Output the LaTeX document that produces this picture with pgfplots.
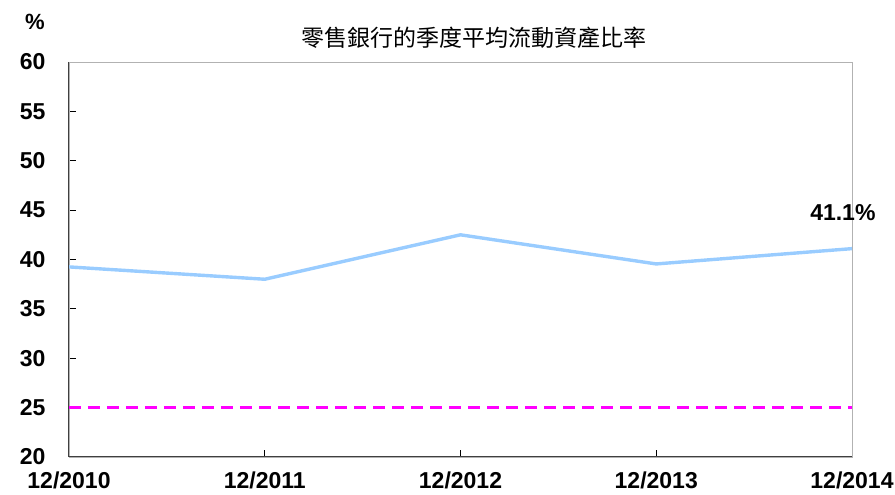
\documentclass[border=0pt]{standalone}
\usepackage{pgfplots}
\pgfplotsset{compat=1.18}
\usepackage{fontspec}
\setmainfont{Liberation Sans}
\newfontfamily\cjk{Noto Sans CJK TC}
\definecolor{lineblue}{RGB}{153,204,255}
\definecolor{mag}{RGB}{255,0,255}
\begin{document}
\begin{tikzpicture}[x=1pt,y=1pt]
\useasboundingbox (-69,-38) rectangle (826,457);
\begin{axis}[
  at={(0,0)}, anchor=south west,
  scale only axis, width=783pt, height=395pt,
  xmin=0, xmax=4, ymin=20, ymax=60,
  xtick={0,1,2,3,4},
  xticklabels={12/2010,12/2011,12/2012,12/2013,12/2014},
  ytick={20,25,...,60},
  tick pos=left,
  tick align=inside,
  major tick length=7pt,
  tick style={black, line width=0.8pt},
  axis line style={draw=black!30, line width=0.8pt},
  /pgf/number format/assume math mode=true,
  ticklabel style={font=\fontsize{23}{23}\selectfont\bfseries},
  xticklabel style={yshift=-11pt},
  yticklabel style={xshift=-20pt},
  clip=false,
]
\addplot[mag, line width=2.8pt, dash pattern=on 12pt off 7pt] coordinates {(0,25) (4,25)};
\addplot[lineblue, line width=3.4pt] coordinates {
(0,39.25) (1,38.0) (2,42.5) (3,39.55) (4,41.1)};
\draw[black!75, line width=1pt] (rel axis cs:0,1) -- (rel axis cs:0,0) -- (rel axis cs:1,0);
\node[font=\fontsize{23}{23}\selectfont\bfseries, anchor=east] at (axis cs:4,44.8) [xshift=27pt] {41.1\%};
\end{axis}
\node[font=\fontsize{22}{22}\selectfont\bfseries] at (-34,435) {\%};
\node[font=\cjk\fontsize{23}{23}\selectfont] at (405,419) {零售銀行的季度平均流動資產比率};
\end{tikzpicture}
\end{document}
